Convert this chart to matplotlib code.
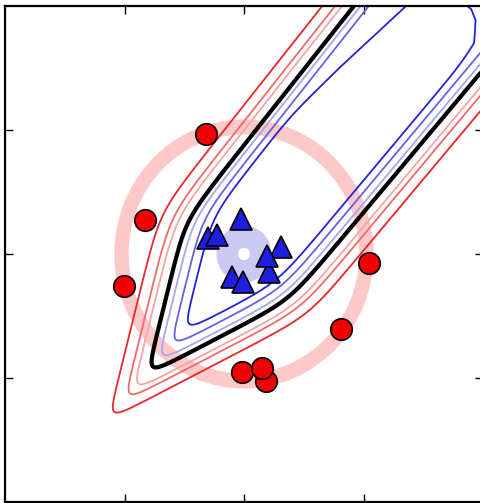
import numpy as np
import matplotlib
matplotlib.use("Agg")
import matplotlib.pyplot as plt
from matplotlib.patches import Circle, Wedge

# ---------------- data ----------------
# red class samples (circles)
red_x = [-0.63, -1.664, -2.011, 2.085, 1.62, -0.039, 0.375, 0.308]
red_y = [1.93, 0.546, -0.518, -0.144, -1.215, -1.899, -2.05, -1.846]
# blue class samples (triangles)
blue_x = [-0.603, -0.446, -0.055, 0.615, 0.419, 0.392, -0.194, -0.01]
blue_y = [0.252, 0.305, 0.56, 0.112, -0.284, -0.027, -0.364, -0.449]

# true class regions
ring_radius = 2.05
ring_width = 0.24
disk_radius = 0.46
dot_radius = 0.1

# learned decision score: sides of the zero boundary (anchor, slope, inside sign, gains)
side_x0 = [-0.98, -0.98, -1.43, 1.40]
side_y0 = [0.56, 0.56, -1.85, -0.02]
side_slope = [1.22, 3.9, 0.5, 1.15]
side_inside = [-1, -1, 1, 1]
side_gain_out = [6.0, 5.5, 6.8, 6.1]
side_gain_in = [7.6, 5.5, 6.7, 6.8]
smooth_outer = 0.6

# innermost contour: extra inset from the upper-left and right sides (by height)
ul_inset_y = [1.0, 2.0, 3.02, 3.99, 4.5]
ul_inset = [0.0, 0.33, 0.58, 0.87, 1.0]
r_inset_y = [2.5, 3.0, 3.4, 3.77, 3.95, 4.2]
r_inset = [0.3, 0.42, 0.52, 0.82, 1.05, 1.6]
inset_gain = 8.0
piece_floor = 2.1
smooth_inner = 0.2

score_levels = [-2.46, -1.46, -0.92, 0.66, 1.45, 2.3]
level_colors = ['#e82828', '#f06a6a', '#f5a5a5', '#a5a5f2', '#6262e6', '#2323d6']
boundary_level = [0.0]
tick_vals = [-2, 0, 2]


def softmin(stack, k):
    mn = stack.min(axis=0)
    return mn - k * np.log(np.exp(-(stack - mn) / k).sum(axis=0))


# ---------------- figure ----------------
fig = plt.figure(figsize=(4.81, 5.03), dpi=100)
ax = fig.add_axes([5 / 481, 1 / 503, 478 / 481, 496 / 503])
ax.set_xlim(-4, 4)
ax.set_ylim(-4, 4)

# background regions
ax.add_patch(Wedge((0, 0), ring_radius + ring_width / 2, 0, 360, width=ring_width,
                   facecolor='#fcc8c8', edgecolor='none', zorder=1))
ax.add_patch(Circle((0, 0), disk_radius, facecolor='#c9c9f4', edgecolor='none', zorder=1))
ax.add_patch(Circle((0, 0), dot_radius, facecolor='white', edgecolor='none', zorder=1))

# decision score field
gx = np.linspace(-4, 4, 700)
X, Y = np.meshgrid(gx, gx)
pieces = []
for x0, y0, m, s, go, gi in zip(side_x0, side_y0, side_slope, side_inside,
                                side_gain_out, side_gain_in):
    d = s * (Y - (y0 + m * (X - x0))) / np.sqrt(1 + m * m)
    pieces.append(np.where(d > 0, gi * d, go * d))
F1 = softmin(np.stack(pieces), smooth_outer)

top = score_levels[-1]
ul_black_x = side_x0[0] + (Y - side_y0[0]) / side_slope[0]
r_black_x = side_x0[3] + (Y - side_y0[3]) / side_slope[3]
ul_edge = ul_black_x + np.interp(Y, ul_inset_y, ul_inset)
r_edge = r_black_x - np.interp(Y, r_inset_y, r_inset)
sin_ul = side_slope[0] / np.sqrt(1 + side_slope[0] ** 2)
sin_r = side_slope[3] / np.sqrt(1 + side_slope[3] ** 2)
L6 = np.maximum(top + inset_gain * sin_ul * (X - ul_edge), piece_floor)
L7 = np.maximum(top + inset_gain * sin_r * (r_edge - X), piece_floor)
F = softmin(np.stack([F1, L6, L7]), smooth_inner)

ax.contour(X, Y, F, levels=score_levels, colors=level_colors,
           linewidths=1.3, zorder=2)
ax.contour(X, Y, F, levels=boundary_level, colors='black', linewidths=3, zorder=3)

# samples
ax.plot(blue_x, blue_y, linestyle='none', marker='^', markersize=16,
        markerfacecolor='#1e1ee0', markeredgecolor='black', markeredgewidth=1.2, zorder=4)
ax.plot(red_x, red_y, linestyle='none', marker='o', markersize=15.5,
        markerfacecolor='#f00000', markeredgecolor='black', markeredgewidth=1.2, zorder=4)

ax.set_xticks(tick_vals)
ax.set_yticks(tick_vals)
ax.tick_params(direction='in', length=6, width=1, top=True, right=True,
               labelbottom=False, labelleft=False)
for sp in ax.spines.values():
    sp.set_linewidth(1.6)
    sp.set_color('black')

fig.savefig('out.png', dpi=100)
